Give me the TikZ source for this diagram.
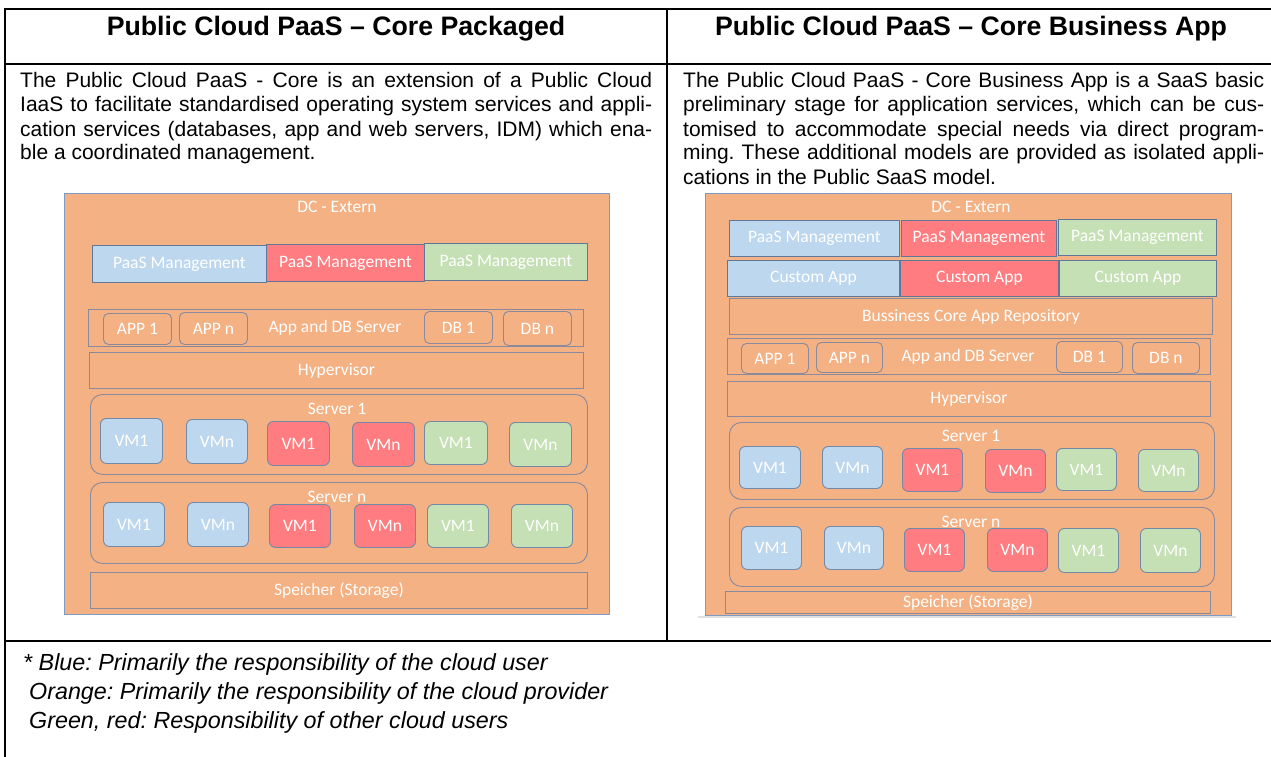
\documentclass[tikz,border=0pt]{standalone}
\usepackage{fontspec}
\setmainfont{Liberation Sans}
\newfontfamily\dgfont{Carlito}
\usetikzlibrary{positioning}
\frenchspacing

\definecolor{dcorange}{HTML}{F4B183}
\definecolor{mgblue}{HTML}{BDD7EE}
\definecolor{mgred}{HTML}{FF7C80}
\definecolor{mggreen}{HTML}{C5E0B4}
\definecolor{dcedge}{HTML}{7A9CC6}
\definecolor{mgedge}{HTML}{5F7898}
\definecolor{bandedge}{HTML}{8A8A9C}
\definecolor{vmedge}{HTML}{7389A8}

% box from top-left (x1,y1) to bottom-right (x2,y2): style, name, x1, y1, x2, y2, text
\newcommand\bx[7]{\node[#1,anchor=north west,minimum width={#5-#3},minimum height={#6-#4}] (#2) at (#3,#4) {#7};}

\newcommand\bodyfont{\fontsize{21}{24}\selectfont}
\newcommand\headfont{\fontsize{26.7}{30}\selectfont\bfseries}
\newcommand\legfont{\fontsize{23.3}{27}\selectfont\itshape}

\tikzset{
  tableline/.style={line width=2pt,black},
  dgtext/.style={font=\dgfont\fontsize{17.5}{20}\selectfont,text=white,inner sep=0pt},
  dcbox/.style={dgtext,fill=dcorange,draw=dcedge,line width=1pt},
  band/.style={dgtext,fill=dcorange,draw=bandedge,line width=0.9pt},
  mgbox/.style={dgtext,draw=mgedge,line width=0.9pt},
  appbox/.style={dgtext,fill=dcorange,draw=bandedge,line width=0.9pt,rounded corners=5pt},
  srvbox/.style={dgtext,fill=dcorange,draw=bandedge,line width=0.9pt,rounded corners=12pt},
  vmbox/.style={dgtext,draw=vmedge,line width=0.9pt,rounded corners=6pt},
  vb/.style={vmbox,fill=mgblue},
  vr/.style={vmbox,fill=mgred},
  vg/.style={vmbox,fill=mggreen},
  bodyline/.style={anchor=base west,inner sep=0pt,font=\bodyfont},
  legline/.style={anchor=base west,inner sep=0pt,font=\legfont},
}

\begin{document}
\begin{tikzpicture}[x=1pt,y=-1pt]
\useasboundingbox (0,0) rectangle (1271,757);

% table rules
\draw[tableline] (5,757) -- (5,9) -- (1271,9);
\draw[tableline] (5,64) -- (1271,64);
\draw[tableline] (667,9) -- (667,641);
\draw[tableline] (5,641) -- (1271,641);

% column headings
\node[anchor=base,inner sep=0pt,font=\headfont] (h1) at (336,36) {Public Cloud PaaS – Core Packaged};
\node[anchor=base,inner sep=0pt,font=\headfont] (h2) at (971,36) {Public Cloud PaaS – Core Business App};

% left description
\node[bodyline] (la) at (20,88) {\hbox to 632pt{The Public Cloud PaaS - Core is an extension of a Public Cloud}};
\node[bodyline] (lb) at (20,112) {\hbox to 632pt{IaaS to facilitate standardised operating system services and appli-}};
\node[bodyline] (lc) at (20,136) {\hbox to 632pt{cation services (databases, app and web servers, IDM) which ena-}};
\node[bodyline] (ld) at (20,160) {ble a coordinated management.};

% right description
\node[bodyline] (ra) at (683,88) {\hbox to 581pt{The Public Cloud PaaS - Core Business App is a SaaS basic}};
\node[bodyline] (rb) at (683,112) {\hbox to 581pt{preliminary stage for application services, which can be cus-}};
\node[bodyline] (rc) at (683,136) {\hbox to 581pt{tomised to accommodate special needs via direct program-}};
\node[bodyline] (rd) at (683,160) {\hbox to 581pt{ming. These additional models are provided as isolated appli-}};
\node[bodyline] (re) at (683,184) {cations in the Public SaaS model.};

% legend
\node[legline] (ga) at (23,670) {* Blue: Primarily the responsibility of the cloud user};
\node[legline] (gb) at (29,699) {Orange: Primarily the responsibility of the cloud provider};
\node[legline] (gc) at (29,728) {Green, red: Responsibility of other cloud users};

% ---------------- left stack ----------------
\bx{dcbox}{Ldc}{64}{193}{609}{614}{}
\node[dgtext] (Ldcl) at (337,207) {DC - Extern};
\bx{mgbox,fill=mgblue}{Lmb}{92}{245}{266}{282}{PaaS Management}
\bx{mgbox,fill=mgred}{Lmr}{266}{244}{424}{281}{PaaS Management}
\bx{mgbox,fill=mggreen}{Lmg}{424}{243}{587}{280}{PaaS Management}

\bx{band}{Lad}{88}{309}{583}{346}{}
\node[dgtext] (Ladl) at (335,328) {App and DB Server};
\bx{appbox}{La1}{103}{313}{171}{344}{APP 1}
\bx{appbox}{Lan}{179}{312}{247}{344}{APP n}
\bx{appbox}{Ld1}{424}{311}{492}{343}{DB 1}
\bx{appbox}{Ldn}{503}{311}{571}{345}{DB n}

\bx{band}{Lhv}{89}{352}{583}{388}{Hypervisor}

\bx{srvbox}{Ls1}{90}{394}{587}{474}{}
\node[dgtext] (Ls1l) at (337,409) {Server 1};
\bx{vb}{L1b1}{100}{418}{162}{463}{VM1}
\bx{vb}{L1b2}{186}{419}{247}{463}{VMn}
\bx{vr}{L1r1}{267}{421}{329}{465}{VM1}
\bx{vr}{L1r2}{352}{422}{414}{466}{VMn}
\bx{vg}{L1g1}{424}{421}{487}{464}{VM1}
\bx{vg}{L1g2}{509}{422}{571}{466}{VMn}

\bx{srvbox}{Lsn}{90}{482}{587}{563}{}
\node[dgtext] (Lsnl) at (337,497) {Server n};
\bx{vb}{L2b1}{103}{502}{164}{546}{VM1}
\bx{vb}{L2b2}{187}{502}{248}{546}{VMn}
\bx{vr}{L2r1}{269}{504}{330}{547}{VM1}
\bx{vr}{L2r2}{354}{504}{415}{547}{VMn}
\bx{vg}{L2g1}{427}{504}{488}{547}{VM1}
\bx{vg}{L2g2}{511}{504}{572}{547}{VMn}

\bx{band}{Lst}{90}{572}{587}{608}{Speicher (Storage)}

% ---------------- right stack ----------------
\draw[line width=2pt,black!12] (698,617) -- (1236,617);
\bx{dcbox}{Rdc}{705}{193}{1231}{615}{}
\node[dgtext] (Rdcl) at (971,207) {DC - Extern};
\bx{mgbox,fill=mgblue}{Rmb}{729}{220}{899}{256}{PaaS Management}
\bx{mgbox,fill=mgred}{Rmr}{901}{220}{1056}{256}{PaaS Management}
\bx{mgbox,fill=mggreen}{Rmg}{1058}{219}{1216}{255}{PaaS Management}
\bx{mgbox,fill=mgblue}{Rcb}{727}{260}{899}{296}{Custom App}
\bx{mgbox,fill=mgred}{Rcr}{900}{260}{1058}{296}{Custom App}
\bx{mgbox,fill=mggreen}{Rcg}{1059}{260}{1216}{296}{Custom App}

\bx{band}{Rrp}{729}{298}{1212}{334}{Bussiness Core App Repository}

\bx{band}{Rad}{727}{338}{1210}{374}{}
\node[dgtext] (Radl) at (968,357) {App and DB Server};
\bx{appbox}{Ra1}{741}{343}{808}{373}{APP 1}
\bx{appbox}{Ran}{816}{342}{882}{372}{APP n}
\bx{appbox}{Rd1}{1056}{341}{1122}{372}{DB 1}
\bx{appbox}{Rdn}{1132}{342}{1199}{373}{DB n}

\bx{band}{Rhv}{727}{381}{1210}{416}{Hypervisor}

\bx{srvbox}{Rs1}{729}{422}{1214}{499}{}
\node[dgtext] (Rs1l) at (971,436) {Server 1};
\bx{vb}{R1b1}{739}{446}{800}{488}{VM1}
\bx{vb}{R1b2}{822}{446}{882}{488}{VMn}
\bx{vr}{R1r1}{902}{448}{962}{491}{VM1}
\bx{vr}{R1r2}{985}{449}{1045}{492}{VMn}
\bx{vg}{R1g1}{1056}{448}{1116}{490}{VM1}
\bx{vg}{R1g2}{1138}{449}{1198}{491}{VMn}

\bx{srvbox}{Rsn}{729}{507}{1214}{586}{}
\node[dgtext] (Rsnl) at (971,522) {Server n};
\bx{vb}{R2b1}{741}{526}{801}{569}{VM1}
\bx{vb}{R2b2}{824}{526}{883}{569}{VMn}
\bx{vr}{R2r1}{904}{528}{964}{571}{VM1}
\bx{vr}{R2r2}{987}{528}{1047}{571}{VMn}
\bx{vg}{R2g1}{1058}{528}{1118}{572}{VM1}
\bx{vg}{R2g2}{1140}{528}{1200}{572}{VMn}

\bx{band}{Rst}{725}{591}{1210}{613}{Speicher (Storage)}
\end{tikzpicture}
\end{document}
